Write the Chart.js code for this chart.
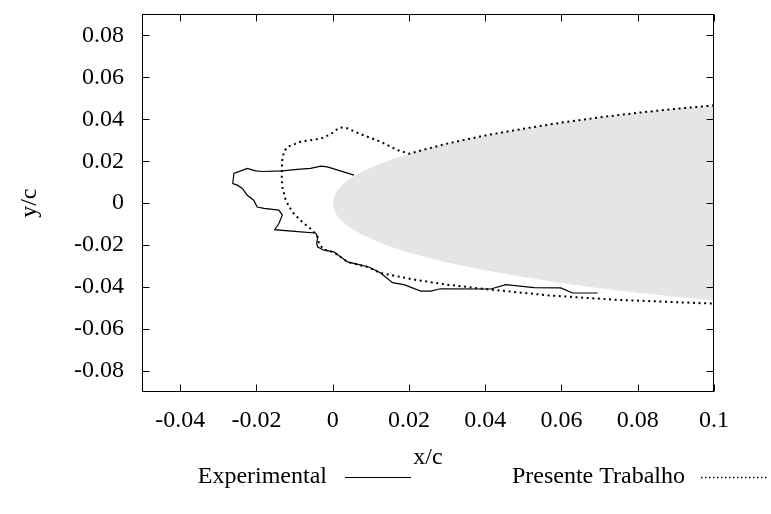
<!DOCTYPE html>
<html>
<head>
<meta charset="utf-8">
<script src="https://cdn.jsdelivr.net/npm/chart.js@4.4.0/dist/chart.umd.min.js"></script>
<style>
  html, body { margin: 0; padding: 0; background: #fff; }
  canvas { display: block; }
</style>
</head>
<body>
<canvas id="iceChart" width="771" height="514"></canvas>
<script>
// airfoil contour (clean profile, shaded)
var airfoilX     = [0, 0.0005, 0.00125, 0.0025, 0.005, 0.0075, 0.01, 0.015, 0.02, 0.03, 0.04, 0.05, 0.06, 0.07, 0.08, 0.09, 0.1];
var airfoilUpper = [0, 0.0039, 0.0062, 0.0087, 0.0122, 0.0148, 0.0170, 0.0206, 0.0236, 0.0284, 0.0323, 0.0355, 0.0384, 0.0409, 0.0431, 0.0450, 0.0466];
var airfoilLower = [0, -0.0039, -0.0062, -0.0087, -0.0122, -0.0148, -0.0170, -0.0206, -0.0236, -0.0283, -0.0320, -0.0352, -0.0380, -0.0405, -0.0427, -0.0446, -0.0463];

// experimental ice shape
var expX = [0.0056, -0.0014, -0.0031, -0.0058, -0.0093, -0.0132, -0.0185, -0.0202, -0.0224, -0.0259, -0.0262, -0.0250, -0.0237, -0.0224, -0.0207, -0.0198, -0.0180, -0.0141, -0.0132, -0.0141, -0.0152, -0.0084, -0.0045, -0.0039, -0.0042, -0.0039, -0.0023, 0.0003, 0.0039, 0.0095, 0.0126, 0.0157, 0.0187, 0.0231, 0.0257, 0.0283, 0.0415, 0.0454, 0.0528, 0.0598, 0.0629, 0.0695];
var expY = [0.0134, 0.0173, 0.0177, 0.0166, 0.0161, 0.0154, 0.0151, 0.0154, 0.0166, 0.0142, 0.0094, 0.0086, 0.0070, 0.0038, 0.0014, -0.0018, -0.0025, -0.0033, -0.0057, -0.0097, -0.0126, -0.0137, -0.0142, -0.0161, -0.0192, -0.0209, -0.0224, -0.0232, -0.0280, -0.0304, -0.0333, -0.0379, -0.0388, -0.0419, -0.0419, -0.0408, -0.0409, -0.0388, -0.0402, -0.0404, -0.0428, -0.0428];

// computed ice shape (this work)
var ptX = [0.1, 0.09, 0.08, 0.07, 0.06, 0.05, 0.04, 0.03, 0.02, 0.0170, 0.0126, 0.0068, 0.0039, 0.0021, 0.0008, -0.0005, -0.0031, -0.0084, -0.0118, -0.0128, -0.0132, -0.0134, -0.0132, -0.0123, -0.0106, -0.0080, -0.0053, -0.0040, -0.0036, -0.0024, 0.0003, 0.0039, 0.0091, 0.0126, 0.0213, 0.0299, 0.0388, 0.0564, 0.0738, 0.1];
var ptY = [0.0466, 0.0450, 0.0431, 0.0409, 0.0384, 0.0355, 0.0323, 0.0284, 0.0236, 0.0253, 0.0293, 0.0333, 0.0357, 0.0361, 0.0348, 0.0329, 0.0308, 0.0293, 0.0269, 0.0245, 0.0205, 0.0142, 0.0078, 0.0014, -0.0042, -0.0089, -0.0129, -0.0161, -0.0192, -0.0220, -0.0234, -0.0280, -0.0304, -0.0333, -0.0364, -0.0388, -0.0407, -0.0439, -0.0460, -0.0479];

var seriesNames = ['Experimental', 'Presente Trabalho'];

var xTicks = [-0.04, -0.02, 0, 0.02, 0.04, 0.06, 0.08, 0.1];
var xTickLabels = ['-0.04', '-0.02', '0', '0.02', '0.04', '0.06', '0.08', '0.1'];
var yTicks = [-0.08, -0.06, -0.04, -0.02, 0, 0.02, 0.04, 0.06, 0.08];
var yTickLabels = ['-0.08', '-0.06', '-0.04', '-0.02', '0', '0.02', '0.04', '0.06', '0.08'];

var xTitle = 'x/c';
var yTitle = 'y/c';

var FONT = 'Liberation Serif';

function toPoints(xs, ys) {
    return xs.map(function (x, i) { return {x: x, y: ys[i]}; });
}

// frame, inward tics, axis titles and key (gnuplot look)
var framePlugin = {
    id: 'frame',
    afterDatasetsDraw: function (chart) {
        var ctx = chart.ctx;
        var a = chart.chartArea;
        var xs = chart.scales.x, ys = chart.scales.y;
        var L = Math.round(a.left) + 0.5, R = Math.round(a.right) - 0.5;
        var T = Math.round(a.top) + 0.5, B = Math.round(a.bottom) - 0.5;
        var tl = 7;

        ctx.save();
        ctx.strokeStyle = '#000';
        ctx.lineWidth = 1;
        ctx.strokeRect(L, T, R - L, B - T);

        ctx.beginPath();
        xTicks.forEach(function (v) {
            var px = Math.round(xs.getPixelForValue(v)) + 0.5;
            ctx.moveTo(px, B); ctx.lineTo(px, B - tl);
            ctx.moveTo(px, T); ctx.lineTo(px, T + tl);
        });
        yTicks.forEach(function (v) {
            var py = Math.round(ys.getPixelForValue(v)) + 0.5;
            ctx.moveTo(L, py); ctx.lineTo(L + tl, py);
            ctx.moveTo(R, py); ctx.lineTo(R - tl, py);
        });
        ctx.stroke();

        ctx.fillStyle = '#000';
        ctx.font = '24px "' + FONT + '"';
        ctx.textBaseline = 'middle';

        // axis titles
        ctx.textAlign = 'center';
        ctx.fillText(xTitle, (a.left + a.right) / 2, 458);
        ctx.save();
        ctx.translate(30, (a.top + a.bottom) / 2);
        ctx.rotate(-Math.PI / 2);
        ctx.fillText(yTitle, 0, 0);
        ctx.restore();

        // key: text then line sample
        var keyY = 477;
        ctx.textAlign = 'right';
        ctx.fillText(seriesNames[0], 327, keyY);
        ctx.fillText(seriesNames[1], 685, keyY);

        ctx.beginPath();
        ctx.lineWidth = 1.2;
        ctx.moveTo(345, keyY + 0.5); ctx.lineTo(411, keyY + 0.5);
        ctx.stroke();

        ctx.beginPath();
        ctx.lineWidth = 1.5;
        ctx.setLineDash([1.5, 2.5]);
        ctx.moveTo(701, keyY + 0.5); ctx.lineTo(769, keyY + 0.5);
        ctx.stroke();
        ctx.restore();
    }
};

var ctxIce = document.getElementById('iceChart');

var iceChart = new Chart(ctxIce, {
    type: 'line',
    data: {
        datasets: [{
            label: seriesNames[0],
            data: toPoints(expX, expY),
            borderColor: '#000',
            borderWidth: 1.2,
            pointRadius: 0,
            fill: false,
            order: 0
        }, {
            label: seriesNames[1],
            data: toPoints(ptX, ptY),
            borderColor: '#000',
            borderWidth: 2,
            borderDash: [2, 3.6],
            pointRadius: 0,
            fill: false,
            order: 1
        }, {
            label: 'perfil',
            data: toPoints(airfoilX, airfoilUpper),
            borderColor: 'rgba(0,0,0,0)',
            backgroundColor: '#e5e5e5',
            borderWidth: 0,
            pointRadius: 0,
            fill: '+1',
            order: 2
        }, {
            label: 'perfil inferior',
            data: toPoints(airfoilX, airfoilLower),
            borderColor: 'rgba(0,0,0,0)',
            borderWidth: 0,
            pointRadius: 0,
            fill: false,
            order: 2
        }]
    },
    options: {
        responsive: false,
        animation: false,
        devicePixelRatio: 1,
        layout: {
            autoPadding: false,
            padding: {top: 14, right: 57, left: 0, bottom: 0}
        },
        elements: {
            line: {tension: 0}
        },
        plugins: {
            legend: {display: false},
            tooltip: {enabled: false}
        },
        scales: {
            x: {
                type: 'linear',
                min: -0.05,
                max: 0.1,
                afterBuildTicks: function (s) {
                    s.ticks = xTicks.map(function (v) { return {value: v}; });
                },
                afterFit: function (s) { s.height = 122; },
                grid: {display: false, drawTicks: false},
                border: {display: false},
                ticks: {
                    color: '#000',
                    font: {family: FONT, size: 24},
                    padding: 14,
                    maxRotation: 0,
                    autoSkip: false,
                    callback: function (v, i) { return xTickLabels[i]; }
                }
            },
            y: {
                type: 'linear',
                min: -0.09,
                max: 0.09,
                afterBuildTicks: function (s) {
                    s.ticks = yTicks.map(function (v) { return {value: v}; });
                },
                afterFit: function (s) { s.width = 142; },
                // gap to the labels is kept as an undrawn tick length
                grid: {display: false, drawTicks: true, tickLength: 18},
                border: {display: false},
                ticks: {
                    color: '#000',
                    font: {family: FONT, size: 24},
                    padding: 0,
                    autoSkip: false,
                    callback: function (v, i) { return yTickLabels[i]; }
                }
            }
        }
    },
    plugins: [framePlugin]
});
</script>
</body>
</html>
